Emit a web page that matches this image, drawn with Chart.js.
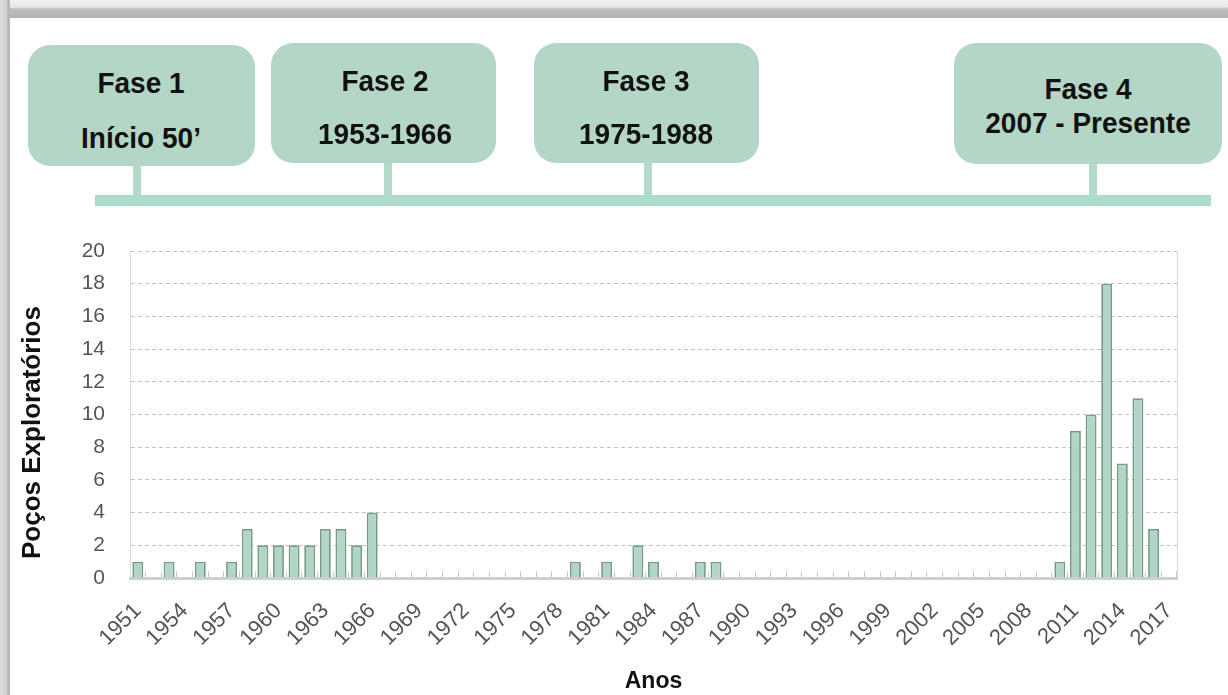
<!DOCTYPE html>
<html>
<head>
<meta charset="utf-8">
<script src="https://cdn.jsdelivr.net/npm/chart.js@4.4.1/dist/chart.umd.min.js"></script>
<style>
html,body{margin:0;padding:0;background:#fff;width:1228px;height:695px;overflow:hidden;font-family:"Liberation Sans",Arial,sans-serif;}
#wrap{position:relative;width:1228px;height:695px;}
#chart{position:absolute;left:0;top:0;}
.topband{position:absolute;left:0;top:0;width:1228px;height:18px;background:linear-gradient(to bottom,#f2f2f2 0%,#e4e4e4 40%,#bdbdbd 50%,#b3b3b3 100%);}
.leftband{position:absolute;left:0;top:0;width:10px;height:695px;background:linear-gradient(to right,#dedede 0%,#d0d0d0 70%,#b0b0b0 80%,#bdbdbd 100%);}
.box{position:absolute;background:#b3d6c6;border-radius:22px;}
.stem{position:absolute;background:#b3d9c8;width:8px;}
.line{position:absolute;left:95px;top:195px;width:1116px;height:11px;background:#addcca;}
.t{position:absolute;font-weight:bold;font-size:28px;color:#111;white-space:nowrap;transform:translate(-50%,-50%) scaleY(1.06);line-height:1;}
</style>
</head>
<body>
<div id="wrap">
  <canvas id="chart" width="1228" height="695"></canvas>
  <div class="topband"></div>
  <div class="leftband"></div>
  <div class="line"></div>
  <div class="stem" style="left:133px;top:160px;height:36px;"></div>
  <div class="stem" style="left:384px;top:158px;height:38px;"></div>
  <div class="stem" style="left:644px;top:158px;height:38px;"></div>
  <div class="stem" style="left:1089px;top:158px;height:38px;"></div>
  <div class="box" style="left:28px;top:45px;width:227px;height:121px;"></div>
  <div class="box" style="left:271px;top:43px;width:225px;height:120px;"></div>
  <div class="box" style="left:534px;top:43px;width:225px;height:120px;"></div>
  <div class="box" style="left:954px;top:43px;width:268px;height:121px;"></div>
  <div class="t" style="left:141px;top:83px;">Fase 1</div>
  <div class="t" style="left:141px;top:138px;">Início 50’</div>
  <div class="t" style="left:385px;top:81px;">Fase 2</div>
  <div class="t" style="left:385px;top:134px;">1953-1966</div>
  <div class="t" style="left:646px;top:81px;">Fase 3</div>
  <div class="t" style="left:646px;top:134px;">1975-1988</div>
  <div class="t" style="left:1088px;top:89px;">Fase 4</div>
  <div class="t" style="left:1088px;top:123px;">2007 - Presente</div>
</div>
<script>
const years = ['1951','1952','1953','1954','1955','1956','1957','1958','1959','1960',
  '1961','1962','1963','1964','1965','1966','1967','1968','1969','1970',
  '1971','1972','1973','1974','1975','1976','1977','1978','1979','1980',
  '1981','1982','1983','1984','1985','1986','1987','1988','1989','1990',
  '1991','1992','1993','1994','1995','1996','1997','1998','1999','2000',
  '2001','2002','2003','2004','2005','2006','2007','2008','2009','2010',
  '2011','2012','2013','2014','2015','2016','2017'];
const wells = [1,0,1,0,1,0,1,3,2,2,
  2,2,3,3,2,4,0,0,0,0,
  0,0,0,0,0,0,0,0,1,0,
  1,0,2,1,0,0,1,1,0,0,
  0,0,0,0,0,0,0,0,0,0,
  0,0,0,0,0,0,0,0,0,1,
  9,10,18,7,11,3,0];
const tickLabels = ['1951','1954','1957','1960','1963','1966','1969','1972','1975','1978','1981','1984',
  '1987','1990','1993','1996','1999','2002','2005','2008','2011','2014','2017'];
const yMin = 0, yMax = 20, yStep = 2;

Chart.defaults.font.family = "'Liberation Sans', Arial, sans-serif";

const rightBorder = {
  id: 'rightBorder',
  beforeDatasetsDraw(chart) {
    const {ctx, chartArea: a} = chart;
    ctx.save();
    ctx.strokeStyle = '#dadada';
    ctx.lineWidth = 1;
    ctx.beginPath();
    ctx.moveTo(Math.round(a.right) + 0.5, a.top);
    ctx.lineTo(Math.round(a.right) + 0.5, a.bottom);
    ctx.stroke();
    ctx.restore();
  }
};

new Chart(document.getElementById('chart'), {
  type: 'bar',
  data: {
    labels: years,
    datasets: [{
      data: wells,
      backgroundColor: '#b2d6c5',
      borderColor: '#779b87',
      borderWidth: 1.8,
      barPercentage: 0.7,
      categoryPercentage: 1.0
    }]
  },
  options: {
    responsive: false,
    animation: false,
    devicePixelRatio: 1,
    layout: { padding: { top: 251, right: 51, bottom: 0, left: 0 } },
    plugins: { legend: { display: false }, tooltip: { enabled: false } },
    scales: {
      x: {
        grid: { display: true, drawOnChartArea: false, drawTicks: true, tickLength: -7, color: '#cccccc', lineWidth: 1 },
        border: { display: true, color: '#cfcfcf', width: 3 },
        ticks: {
          autoSkip: false, maxRotation: 45, minRotation: 45, padding: 27,
          color: '#555555', font: { size: 22 },
          callback: function (value) {
            const lab = this.getLabelForValue(value);
            return tickLabels.includes(lab) ? lab : '';
          }
        },
        title: { display: true, text: 'Anos', color: '#111', font: { size: 23, weight: 'bold' }, padding: 0 },
        afterFit: s => { s.height = 117; }
      },
      y: {
        min: yMin, max: yMax,
        grid: { color: '#c4c4c4', drawTicks: false, lineWidth: 1 },
        border: { display: true, color: '#dadada', dash: [4, 3], width: 1 },
        ticks: { stepSize: yStep, padding: 25, color: '#555555', font: { size: 21 } },
        title: { display: true, text: 'Poços Exploratórios\u00a0\u00a0\u00a0\u00a0\u00a0', color: '#111', font: { size: 26, weight: 'bold' }, padding: { top: 17, bottom: 0 } },
        afterFit: s => { s.width = 130; }
      }
    }
  },
  plugins: [rightBorder]
});
</script>
</body>
</html>
